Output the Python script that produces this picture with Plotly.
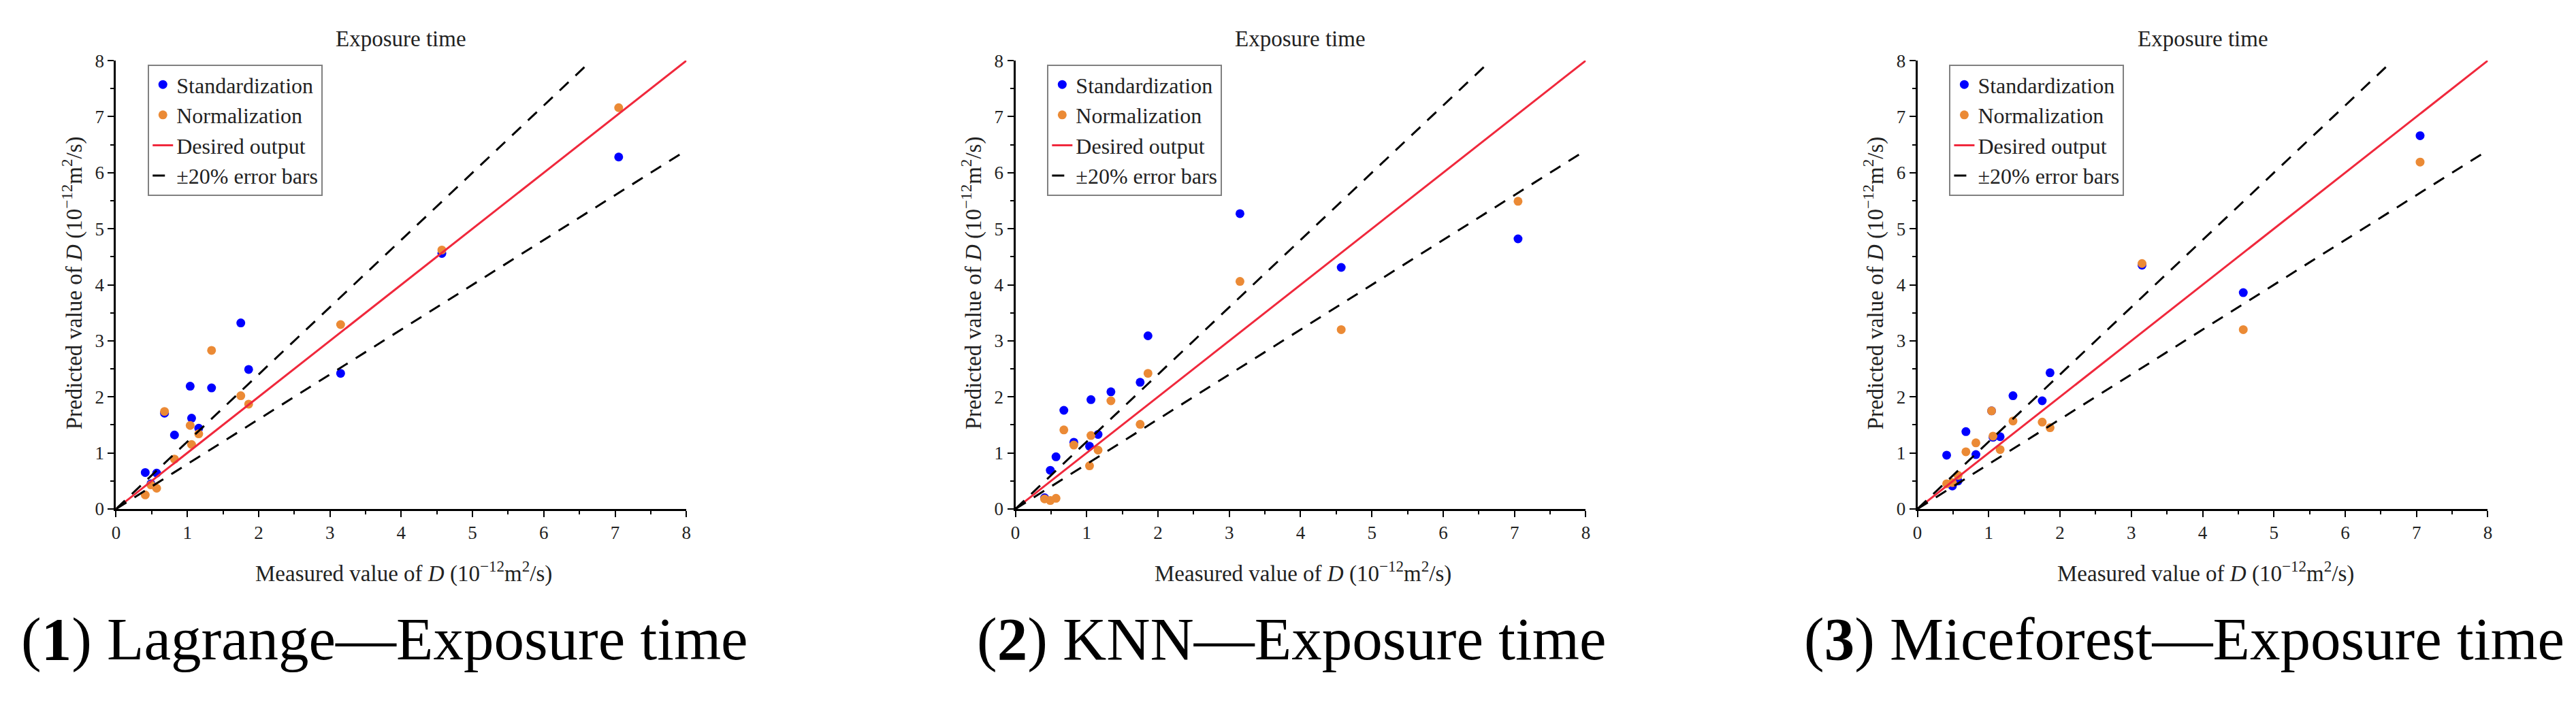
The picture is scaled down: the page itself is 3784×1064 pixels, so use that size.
import plotly.graph_objects as go

# measured D (10^-12 m2/s), shared by all three panels
measured = [0.41, 0.49, 0.57, 0.68, 0.82, 1.04, 1.06, 1.16, 1.34, 1.75, 1.86, 3.15, 4.57, 7.05]

# predicted D per imputation method
lagrange_std = [0.65, 0.45, 0.64, 1.71, 1.32, 2.19, 1.62, 1.44, 2.16, 3.32, 2.49, 2.42, 4.56, 6.28]
lagrange_norm = [0.25, 0.43, 0.37, 1.74, 0.89, 1.49, 1.15, 1.34, 2.83, 2.02, 1.87, 3.29, 4.62, 7.16]

knn_std = [0.20, 0.69, 0.93, 1.76, 1.19, 1.12, 1.95, 1.33, 2.09, 2.26, 3.09, 5.27, 4.31, 4.82]
knn_norm = [0.18, 0.15, 0.19, 1.41, 1.14, 0.77, 1.31, 1.05, 1.93, 1.51, 2.42, 4.06, 3.20, 5.49]

mice_std = [0.96, 0.41, 0.50, 1.38, 0.97, 1.75, 1.28, 1.29, 2.02, 1.93, 2.43, 4.35, 3.86, 6.66]
mice_norm = [0.45, 0.47, 0.60, 1.02, 1.18, 1.75, 1.30, 1.06, 1.57, 1.55, 1.45, 4.38, 3.20, 6.19]

captions = ["(<b>1</b>) Lagrange\u2014Exposure time",
            "(<b>2</b>) KNN\u2014Exposure time",
            "(<b>3</b>) Miceforest\u2014Exposure time"]

axis_max = 8
err = 0.2

W, H = 3784, 1064
FONT = "Liberation Serif"
BLUE = "#0000FF"
ORANGE = "#EB8A35"
RED = "#F0283C"

panels = [(lagrange_std, lagrange_norm), (knn_std, knn_norm), (mice_std, mice_norm)]
x_left = [156, 1482, 2812]  # pixel left edge of each plot area
plot_w = 841
y_top, y_bot = 68, 746

fig = go.Figure()

for i, (std, norm) in enumerate(panels):
    n = "" if i == 0 else str(i + 1)
    xa, ya, lg = "x" + n, "y" + n, "legend" + n
    fig.add_trace(go.Scatter(x=measured, y=std, mode="markers", name="Standardization",
                             marker=dict(color=BLUE, size=13), xaxis=xa, yaxis=ya, legend=lg))
    fig.add_trace(go.Scatter(x=measured, y=norm, mode="markers", name="Normalization",
                             marker=dict(color=ORANGE, size=13), xaxis=xa, yaxis=ya, legend=lg))
    fig.add_trace(go.Scatter(x=[0, axis_max], y=[0, axis_max], mode="lines", name="Desired output",
                             line=dict(color=RED, width=3), xaxis=xa, yaxis=ya, legend=lg))
    up_x = [0, axis_max / (1 + err)]
    fig.add_trace(go.Scatter(x=up_x, y=[v * (1 + err) for v in up_x], mode="lines",
                             name="\u00b120% error bars",
                             line=dict(color="black", width=3, dash="18px,14px"),
                             xaxis=xa, yaxis=ya, legend=lg))
    lo_x = [0, axis_max]
    fig.add_trace(go.Scatter(x=lo_x, y=[v * (1 - err) for v in lo_x], mode="lines",
                             showlegend=False,
                             line=dict(color="black", width=3, dash="18px,14px"),
                             xaxis=xa, yaxis=ya, legend=lg))

    ax = dict(range=[0, axis_max], dtick=1, showgrid=False, zeroline=False,
              showline=True, linecolor="black", linewidth=3,
              ticks="outside", ticklen=9, tickwidth=2, tickcolor="black",
              minor=dict(dtick=0.5, ticks="outside", ticklen=5, tickwidth=2, tickcolor="black"),
              tickfont=dict(family=FONT, size=27, color="#222"))
    d0 = x_left[i] / W
    d1 = (x_left[i] + plot_w) / W
    fig.update_layout({
        "xaxis" + n: dict(ax, domain=[d0, d1], anchor=ya),
        "yaxis" + n: dict(ax, domain=[1 - y_bot / H, 1 - y_top / H], anchor=xa),
        lg: dict(x=(x_left[i] + 47) / W, y=1 - 74 / H, xanchor="left", yanchor="top",
                 bgcolor="white", bordercolor="#808080", borderwidth=2,
                 font=dict(family=FONT, size=32, color="#222"), tracegroupgap=0),
    })

    fig.add_annotation(text="Exposure time", xref=xa + " domain", x=0.5, yref="paper",
                       y=1 - 35 / H, xanchor="center", yanchor="middle", showarrow=False,
                       font=dict(family=FONT, size=33, color="#222"))
    fig.add_annotation(text="Measured value of <i>D</i> (10<sup>\u221212</sup>m<sup>2</sup>/s)",
                       xref="paper", x=(x_left[i] + plot_w / 2 + 4) / W, yref="paper",
                       y=1 - 841 / H, xanchor="center", yanchor="middle",
                       showarrow=False, font=dict(family=FONT, size=33, color="#222"))
    fig.add_annotation(text="Predicted value of <i>D</i> (10<sup>\u221212</sup>m<sup>2</sup>/s)",
                       xref="paper", x=(x_left[i] - 64) / W, yref="paper",
                       y=1 - 404 / H, xanchor="center", yanchor="middle",
                       textangle=-90, showarrow=False,
                       font=dict(family=FONT, size=33, color="#222"))

fig.add_annotation(text=captions[0], xref="paper", x=14 / W, xanchor="left",
                   yref="paper", y=1 - 995 / H, showarrow=False,
                   font=dict(family=FONT, size=89, color="black"))
fig.add_annotation(text=captions[1], xref="paper", x=1423 / W, xanchor="left",
                   yref="paper", y=1 - 995 / H, showarrow=False,
                   font=dict(family=FONT, size=89, color="black"))
fig.add_annotation(text=captions[2], xref="paper", x=3768 / W, xanchor="right",
                   yref="paper", y=1 - 995 / H, showarrow=False,
                   font=dict(family=FONT, size=89, color="black"))

fig.update_layout(width=W, height=H, autosize=False,
                  margin=dict(l=0, r=0, t=0, b=0),
                  paper_bgcolor="white", plot_bgcolor="white")

fig.write_html("out.html")
